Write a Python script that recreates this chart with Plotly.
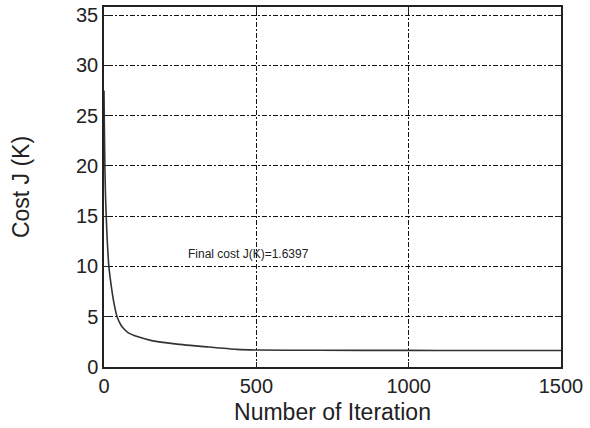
import plotly.graph_objects as go

iterations = [0, 1, 2, 3, 5, 7, 10, 16, 25, 35, 43, 55, 65, 80, 112, 160, 233, 338, 436, 500, 700, 1000, 1200, 1500]
cost = [27.5, 24.5, 22.0, 19.8, 17.0, 15.3, 13.0, 10.0, 7.8, 6.0, 5.0, 4.2, 3.8, 3.4, 3.0, 2.6, 2.3, 2.0, 1.75, 1.69, 1.66, 1.65, 1.645, 1.64]

x_ticks = [0, 500, 1000, 1500]
y_ticks = [0, 5, 10, 15, 20, 25, 30, 35]

fig = go.Figure()
fig.add_trace(go.Scatter(x=iterations, y=cost, mode="lines",
                         line=dict(color="#333333", width=1.6, shape="spline", smoothing=0.6),
                         showlegend=False, hoverinfo="skip"))

fig.add_annotation(x=270, y=11.2, text="Final cost J(K)=1.6397", showarrow=False,
                   xanchor="left", yanchor="middle",
                   font=dict(family="Liberation Sans, Arial", size=12, color="#222222"))

axis_common = dict(showline=True, linecolor="#222222", linewidth=1.5, mirror="ticks",
                   ticks="inside", ticklen=5, tickcolor="#222222", tickwidth=1,
                   showgrid=True, gridcolor="#111111", gridwidth=1, griddash="2px,2px,5px,2px",
                   zeroline=False, automargin=False, ticklabeloverflow="allow",
                   tickfont=dict(family="Liberation Sans, Arial", size=20, color="#222222"),
                   title_font=dict(family="Liberation Sans, Arial", size=23, color="#222222"))

fig.update_xaxes(range=[0, 1500], tickvals=x_ticks, ticktext=[str(v) for v in x_ticks],
                 title_text="Number of Iteration", title_standoff=8, **axis_common)
fig.update_yaxes(range=[0, 35.8], tickvals=y_ticks, ticktext=[str(v) for v in y_ticks],
                 title_text="Cost J (K)", title_standoff=40, **axis_common)

fig.update_layout(width=590, height=428, margin=dict(l=104, r=29, t=7, b=61),
                  paper_bgcolor="white", plot_bgcolor="white", hovermode=False)

fig.write_html("out.html", config={"displayModeBar": False},
               post_script="document.body.style.margin='0';document.body.style.overflow='hidden';")
